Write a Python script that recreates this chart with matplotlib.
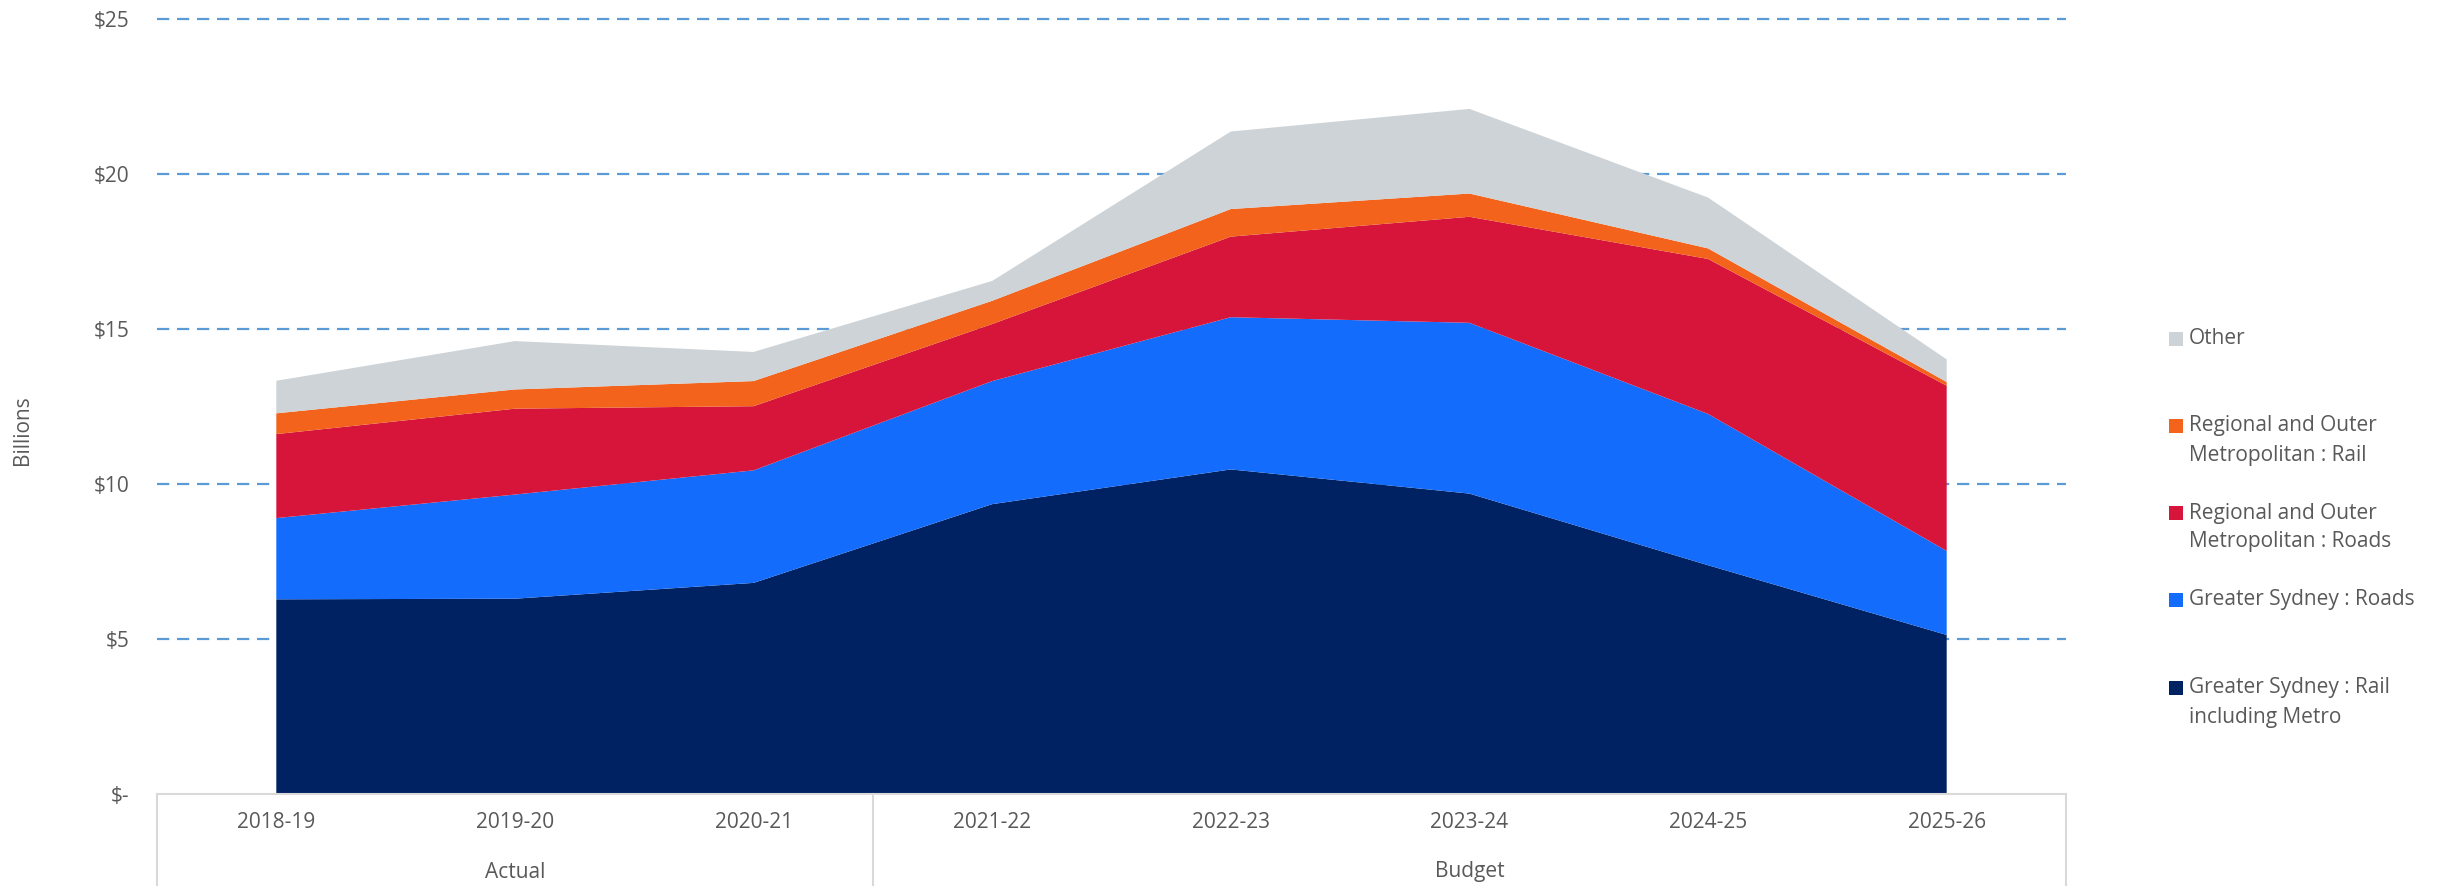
import matplotlib
matplotlib.use("Agg")
import matplotlib.pyplot as plt
from matplotlib.patches import Rectangle
from matplotlib.lines import Line2D
import matplotlib.transforms as mtransforms
import numpy as np

# ---- data (billions) ----
years = ["2018-19", "2019-20", "2020-21", "2021-22", "2022-23", "2023-24", "2024-25", "2025-26"]
groups = ["Actual", "Budget"]
group_sizes = [3, 5]

gs_rail = [6.28, 6.30, 6.81, 9.35, 10.47, 9.69, 7.38, 5.13]
gs_roads = [2.62, 3.36, 3.63, 3.97, 4.91, 5.51, 4.88, 2.71]
rom_roads = [2.71, 2.77, 2.07, 1.84, 2.60, 3.42, 5.00, 5.33]
rom_rail = [0.67, 0.62, 0.81, 0.75, 0.89, 0.75, 0.34, 0.12]
other = [1.05, 1.56, 0.94, 0.64, 2.50, 2.73, 1.64, 0.73]

series_labels = [
    "Greater Sydney : Rail\nincluding Metro",
    "Greater Sydney : Roads",
    "Regional and Outer\nMetropolitan : Roads",
    "Regional and Outer\nMetropolitan : Rail",
    "Other",
]
colors = ["#002262", "#146CFD", "#D7153A", "#F3631B", "#CDD3D6"]

y_ticks = [0, 5, 10, 15, 20, 25]

# ---- figure ----
W, H = 2441, 886
fig = plt.figure(figsize=(W / 100, H / 100), dpi=100)
FONT = ["Open Sans", "DejaVu Sans"]
TXT = "#595959"

ax_left, ax_right, ax_top, ax_bot = 157, 2066, 19, 794
ax = fig.add_axes([ax_left / W, 1 - ax_bot / H, (ax_right - ax_left) / W, (ax_bot - ax_top) / H])

x = np.arange(len(years))
ax.stackplot(x, gs_rail, gs_roads, rom_roads, rom_rail, other, colors=colors, linewidth=0)

ax.set_xlim(-0.5, len(years) - 0.5)
ax.set_ylim(0, 25)

# grid
ax.set_axisbelow(True)
ax.set_yticks(y_ticks)
ax.set_yticklabels(["$-" if v == 0 else f"${v}" for v in y_ticks], fontfamily=FONT, fontsize=15, color=TXT)
for v in y_ticks[1:]:
    ax.axhline(v, color="#5B9BD5", lw=1.6, dashes=(5.5, 3.5), zorder=0, clip_on=False)
ax.tick_params(axis="y", length=0, pad=20)

for s in ["top", "right", "left"]:
    ax.spines[s].set_visible(False)
ax.spines["bottom"].set_color("#D9D9D9")
ax.spines["bottom"].set_linewidth(1.5)

# x labels
ax.set_xticks(x)
ax.set_xticklabels(years, fontfamily=FONT, fontsize=15, color=TXT)
ax.tick_params(axis="x", length=0, pad=13)

trans = mtransforms.blended_transform_factory(ax.transData, ax.transAxes)
below = -(H - ax_bot) / (ax_bot - ax_top)
bounds = [-0.5]
start = 0
for g, n in zip(groups, group_sizes):
    center = start + (n - 1) / 2
    ax.text(center, -(872 - ax_bot) / (ax_bot - ax_top), g, transform=trans, ha="center", va="center",
            fontfamily=FONT, fontsize=15, color=TXT)
    start += n
    bounds.append(start - 0.5)
for b in bounds:
    ax.add_line(Line2D([b, b], [0, below], transform=trans, color="#D9D9D9", lw=1.5, clip_on=False))

# y axis title
fig.text(22 / W, 1 - 430 / H, "Billions", rotation=90, ha="center", va="center",
         fontfamily=FONT, fontsize=15, color=TXT)

# legend (manual)
leg_order = [4, 3, 2, 1, 0]
leg_y = [339, 426, 513, 600, 688]
sq = 14
for idx, yc in zip(leg_order, leg_y):
    fig.add_artist(Rectangle(((2169) / W, 1 - (yc + sq / 2) / H), sq / W, sq / H,
                             transform=fig.transFigure, facecolor=colors[idx], edgecolor="none"))
    for i, line in enumerate(series_labels[idx].split("\n")):
        fig.text(2189 / W, 1 - (yc + i * 29) / H, line, ha="left", va="center",
                 fontfamily=FONT, fontsize=15, color=TXT)

fig.savefig("out.png", dpi=100)
